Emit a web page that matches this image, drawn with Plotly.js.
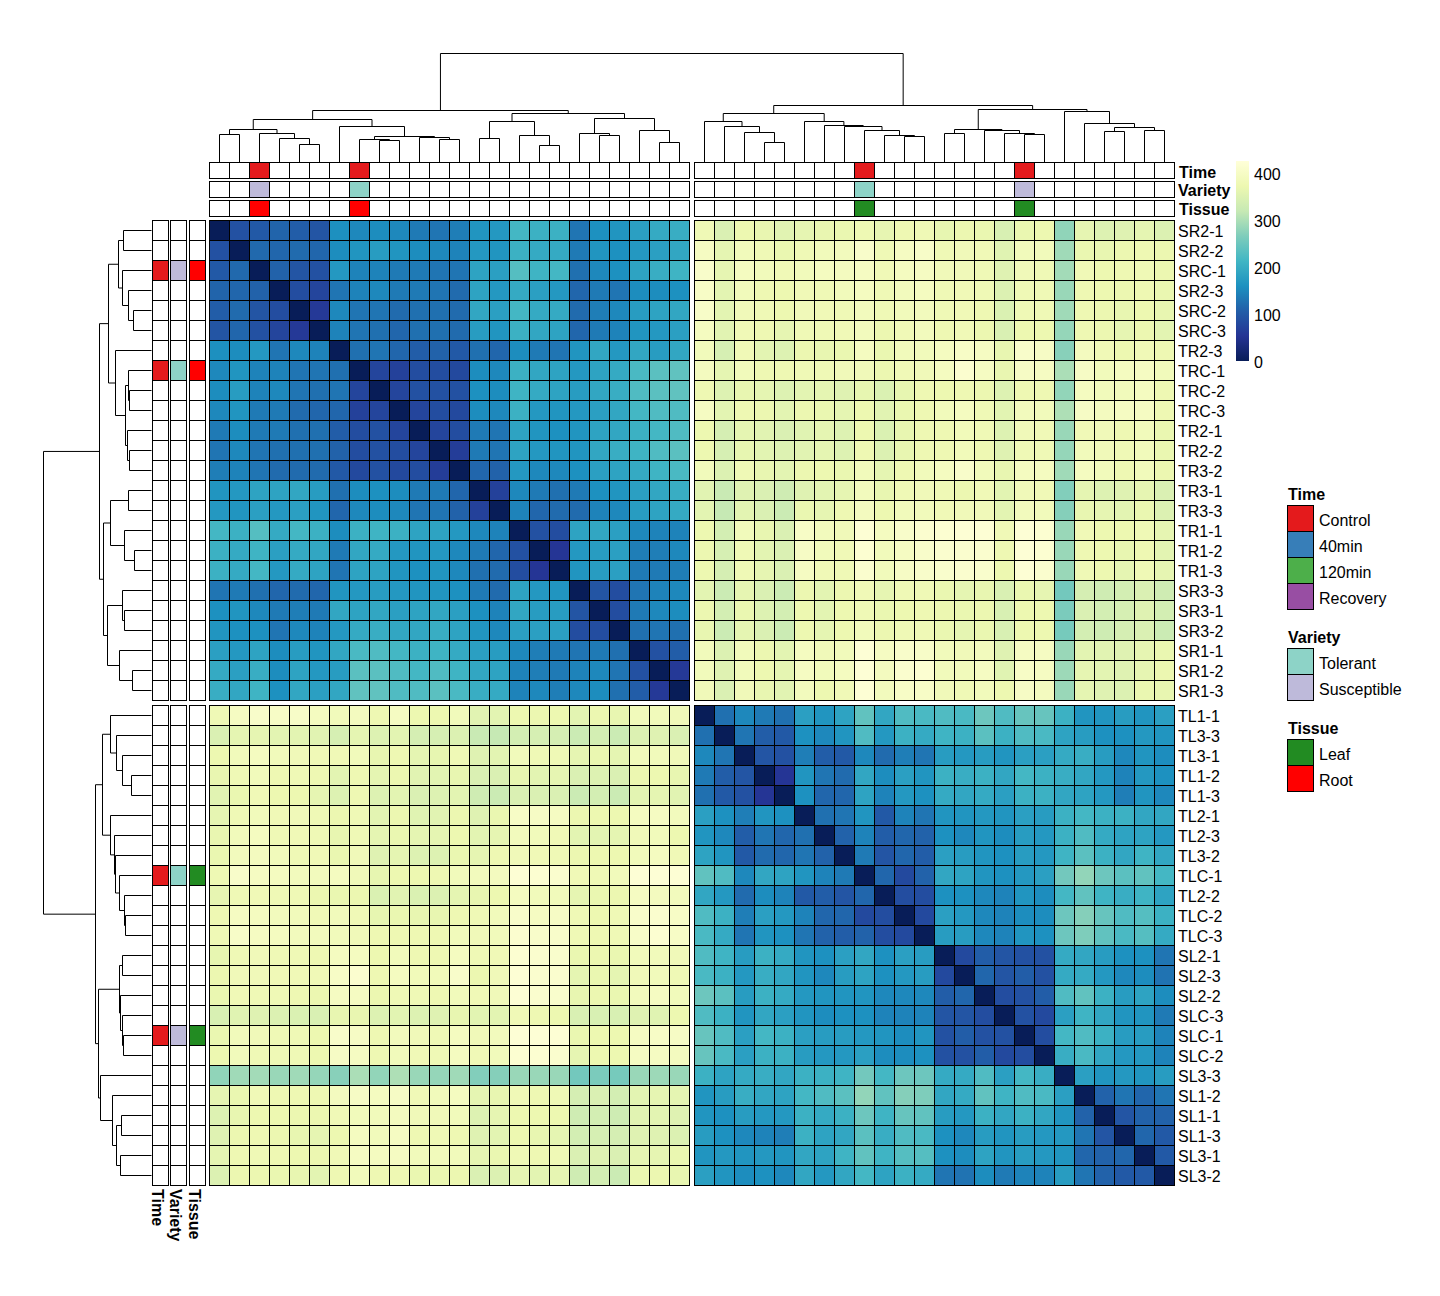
<!DOCTYPE html>
<html>
<head>
<meta charset="utf-8">
<script src="https://cdn.plot.ly/plotly-3.0.1.min.js"></script>
<style>html,body{margin:0;padding:0;background:#fff}#chart{width:1440px;height:1296px}</style>
</head>
<body>
<div id="chart"></div>
<script>
const rootLabels = ['SR2-1','SR2-2','SRC-1','SR2-3','SRC-2','SRC-3','TR2-3','TRC-1','TRC-2','TRC-3','TR2-1','TR2-2','TR3-2','TR3-1','TR3-3','TR1-1','TR1-2','TR1-3','SR3-3','SR3-1','SR3-2','SR1-1','SR1-2','SR1-3'];
const leafLabels = ['TL1-1','TL3-3','TL3-1','TL1-2','TL1-3','TL2-1','TL2-3','TL3-2','TLC-1','TL2-2','TLC-2','TLC-3','SL2-1','SL2-3','SL2-2','SLC-3','SLC-1','SLC-2','SL3-3','SL1-2','SL1-1','SL1-3','SL3-1','SL3-2'];

const rootRoot = [
[0,90,100,112,105,95,158,150,155,150,135,130,140,165,170,215,205,205,130,160,165,180,195,200],
[90,0,118,115,120,115,155,165,175,165,155,150,145,170,165,205,195,195,135,165,160,170,180,190],
[100,118,0,110,95,90,170,145,145,135,135,130,130,185,180,230,210,215,125,150,160,185,200,210],
[112,115,110,0,85,75,130,145,150,135,135,130,120,185,170,195,180,170,115,135,130,155,155,160],
[105,120,95,85,0,60,150,130,130,120,125,125,120,190,180,215,195,195,120,140,150,175,185,190],
[95,115,90,75,60,0,145,130,125,115,125,125,120,175,165,205,190,185,115,135,145,165,170,180],
[158,155,170,130,150,145,0,125,130,115,105,110,100,125,115,155,135,130,165,190,170,190,175,190],
[150,165,145,145,130,130,125,0,75,70,85,85,80,155,150,205,190,185,170,185,195,220,235,240],
[155,175,145,150,130,125,130,75,0,75,90,90,90,160,155,210,195,185,175,190,200,225,235,240],
[150,165,135,135,120,115,115,70,75,0,75,85,80,155,150,205,170,165,170,180,190,215,225,225],
[135,155,135,135,125,125,105,85,90,75,0,75,85,135,130,185,165,160,165,185,190,205,215,225],
[130,150,130,125,125,125,110,85,90,85,75,0,65,135,130,185,170,165,165,190,200,210,225,235],
[140,145,130,120,120,120,100,80,90,80,85,65,0,115,110,170,150,150,160,180,185,195,210,220],
[165,170,185,185,190,175,125,155,160,155,135,135,115,0,70,150,135,125,135,160,165,180,190,200],
[170,165,180,170,180,165,115,150,155,150,130,130,110,70,0,145,115,120,120,145,150,175,185,195],
[215,205,230,195,215,205,155,205,210,205,185,185,170,150,145,0,90,85,185,190,180,150,145,145],
[205,195,210,180,195,190,135,190,195,170,165,170,150,135,115,90,0,55,170,175,180,140,140,150],
[205,195,215,170,195,185,130,185,185,165,160,165,150,125,120,85,55,0,165,175,180,135,135,140],
[130,135,125,115,120,115,165,170,175,170,165,165,160,135,120,185,170,165,0,95,85,130,145,150],
[160,165,150,135,140,135,190,185,190,180,185,190,180,160,145,190,175,175,95,0,85,135,150,155],
[165,160,160,130,150,145,170,195,200,190,190,200,185,165,150,180,180,180,85,85,0,125,130,125],
[180,170,185,155,175,165,190,220,225,215,205,210,195,180,175,150,140,135,130,135,125,0,90,105],
[195,180,200,155,185,170,175,235,235,225,215,225,210,190,185,145,140,135,145,150,130,90,0,60],
[200,190,210,160,190,180,190,240,240,225,225,235,220,200,195,145,150,140,150,155,125,105,60,0]];

const leafLeaf = [
[0,125,150,135,125,180,165,185,240,190,225,220,225,220,250,225,245,245,205,165,165,175,165,180],
[125,0,130,105,100,160,150,165,225,170,205,195,210,205,235,205,225,220,185,175,160,160,170,165],
[150,130,0,95,90,140,105,100,150,120,140,130,175,170,175,165,180,180,195,200,175,150,165,155],
[135,105,95,0,55,165,130,120,190,155,180,165,205,200,205,190,215,205,200,190,170,145,170,160],
[125,100,90,55,0,160,115,115,185,145,170,160,195,190,195,180,205,205,190,185,170,140,165,150],
[180,160,140,165,160,0,125,130,165,100,145,130,165,165,170,165,180,175,205,215,205,205,190,190],
[165,150,105,130,115,125,0,110,145,105,115,110,160,150,165,155,175,170,205,225,195,185,185,170],
[185,165,100,120,115,130,110,0,135,95,115,105,180,175,165,160,175,170,210,235,205,190,210,190],
[240,225,150,190,185,165,145,135,0,115,80,110,190,185,165,160,170,180,255,280,250,235,240,215],
[190,170,120,155,145,100,105,95,115,0,85,85,160,160,150,145,165,155,215,240,210,200,210,185],
[225,205,140,180,170,145,115,115,80,85,0,80,180,170,150,145,155,155,250,270,245,225,230,205],
[220,195,130,165,160,130,110,105,110,85,80,0,175,175,150,145,165,160,250,265,240,220,230,195],
[225,210,175,205,195,165,160,180,190,160,180,175,0,80,105,95,90,90,195,190,175,160,160,130],
[220,205,170,200,190,165,150,175,185,160,170,175,80,0,115,95,105,90,195,195,170,150,155,128],
[250,235,175,205,195,170,165,165,165,150,150,150,105,115,0,85,90,105,225,240,205,175,185,155],
[225,205,165,190,180,165,155,160,160,145,145,145,95,95,85,0,90,80,180,210,190,165,165,135],
[245,225,180,215,205,180,175,175,170,165,155,165,90,105,90,90,0,85,215,225,205,175,175,145],
[245,220,180,205,205,175,170,170,180,155,155,160,90,90,105,80,85,0,200,220,190,170,170,145],
[205,185,195,200,190,205,205,210,255,215,250,250,195,195,225,180,215,200,0,180,165,170,165,175],
[165,175,200,190,185,215,225,235,280,240,270,265,190,195,240,210,225,220,180,0,110,130,115,130],
[165,160,175,170,170,205,195,205,250,210,245,240,175,170,205,190,205,190,165,110,0,95,110,110],
[175,160,150,145,140,205,185,190,235,200,225,220,160,150,175,165,175,170,170,130,95,0,115,100],
[165,170,165,170,165,190,185,210,240,210,230,230,160,155,185,165,175,170,165,115,110,115,0,100],
[180,165,155,160,150,190,170,190,215,185,205,195,130,128,155,135,145,145,175,130,110,100,100,0]];

const rootLeaf = [
[378,345,372,366,355,362,366,368,376,363,374,378,364,370,368,342,368,372,278,362,350,352,360,348],
[395,360,385,378,368,378,385,388,405,378,395,402,378,382,380,354,385,385,290,368,365,370,374,370],
[405,362,392,385,380,385,392,390,395,380,392,395,382,382,378,352,382,378,292,380,372,375,378,370],
[400,358,385,375,372,380,378,385,392,378,388,392,378,380,378,348,378,378,285,375,372,370,375,368],
[402,358,382,378,372,382,380,378,388,378,385,388,378,380,375,346,378,378,290,375,370,365,372,365],
[392,355,380,375,362,378,378,380,388,370,380,388,375,380,370,344,372,372,282,375,370,362,370,358],
[385,340,380,358,350,370,365,368,392,368,385,385,392,400,395,365,405,398,272,390,380,372,380,375],
[390,360,385,375,375,378,378,382,382,370,380,382,392,412,395,366,398,395,298,398,385,392,395,385],
[375,350,365,360,350,358,360,352,364,346,364,374,372,374,370,350,374,374,280,392,385,385,392,375],
[395,358,375,370,358,370,368,360,372,355,368,375,385,392,378,356,388,385,300,398,390,395,395,375],
[372,338,360,355,345,354,360,350,372,346,365,374,374,384,378,350,382,380,285,380,382,375,385,368],
[372,340,364,356,350,355,360,350,374,348,365,374,374,384,374,352,378,378,282,385,382,378,385,368],
[385,348,378,365,358,370,372,368,385,360,375,385,392,405,385,365,392,392,290,392,385,375,385,370],
[355,322,352,345,330,352,358,362,388,365,378,382,378,370,380,356,382,380,268,360,350,352,362,345],
[358,318,358,345,325,368,362,375,390,372,385,385,380,382,382,358,388,385,270,365,362,358,368,348],
[372,335,385,365,345,400,388,382,418,392,405,412,415,418,418,380,420,415,285,380,372,372,378,362],
[370,340,378,358,345,398,385,380,415,385,395,405,410,410,410,375,420,415,285,375,372,365,375,358],
[372,338,378,362,345,395,380,378,410,385,398,405,408,410,408,372,418,410,285,378,372,360,378,362],
[358,325,362,345,325,370,358,370,380,362,378,378,368,360,365,344,368,362,255,338,330,335,345,330],
[370,335,368,350,335,372,358,372,378,368,372,375,370,368,370,342,372,372,262,345,335,340,352,335],
[365,325,360,345,325,372,360,372,385,370,378,378,368,360,368,342,372,372,258,335,328,338,345,325],
[385,348,385,370,358,392,382,385,420,395,405,402,385,382,388,352,395,395,285,358,355,352,362,368],
[385,352,385,372,360,395,385,392,420,390,410,415,385,385,395,354,400,395,288,362,358,352,362,370],
[382,345,382,365,355,388,372,380,418,388,400,400,382,378,385,372,398,390,285,360,352,348,368,365]];
const leafRoot = rootLeaf[0].map((_, c) => rootLeaf.map(r => r[c]));

// annotation categories per sample (0 = not annotated)
const catNames = ['', 'Control', '40min', '120min', 'Recovery', 'Tolerant', 'Susceptible', 'Leaf', 'Root'];
const catColors = ['#FFFFFF', '#E41A1C', '#377EB8', '#4DAF4A', '#984EA3', '#8DD3C7', '#BEBADA', '#228B22', '#FF0000'];
const rootTime    = [0,0,1,0,0,0,0,1,0,0,0,0,0,0,0,0,0,0,0,0,0,0,0,0];
const rootVariety = [0,0,6,0,0,0,0,5,0,0,0,0,0,0,0,0,0,0,0,0,0,0,0,0];
const rootTissue  = [0,0,8,0,0,0,0,8,0,0,0,0,0,0,0,0,0,0,0,0,0,0,0,0];
const leafTime    = [0,0,0,0,0,0,0,0,1,0,0,0,0,0,0,0,1,0,0,0,0,0,0,0];
const leafVariety = [0,0,0,0,0,0,0,0,5,0,0,0,0,0,0,0,6,0,0,0,0,0,0,0];
const leafTissue  = [0,0,0,0,0,0,0,0,7,0,0,0,0,0,0,0,7,0,0,0,0,0,0,0];
const annNames = ['Time', 'Variety', 'Tissue'];
const legendGroups = [['Time',[1,2,3,4]], ['Variety',[5,6]], ['Tissue',[7,8]]];
const scaleTicks = [0, 100, 200, 300, 400];

// dendrograms: [height, childA, childB]; a number is a leaf position
const colTree = [109,
 [52,
  [43,
   [33,[28,0,1],[29,2,[24,3,[18,4,5]]]],
   [36,6,[26,[23,7,[22,8,9]],[25,10,[23,11,12]]]]],
  [49,
   [41,[24,13,14],[27,15,[17,16,17]]],
   [44,[29,18,[27,19,20]],[32,21,[20,22,23]]]]],
 [57,
  [49,
   [41,24,[36,25,[30,26,[20,27,28]]]],
   [41,29,[37,30,[36,31,[32,32,[27,33,[26,34,35]]]]]]],
  [53,
   [33,[29,36,37],[32,38,[29,39,[28,40,41]]]],
   [51,42,[39,43,[35,[31,44,45],[32,46,47]]]]]]];
const rowTree = [109,
 [53,
  [44,
   [34,[29,0,1],[30,2,[24,3,[19,4,5]]]],
   [37,6,[27,[24,7,[23,8,9]],[25,10,[23,11,12]]]]],
  [49,
   [42,[24,13,14],[28,15,[18,16,17]]],
   [45,[30,18,[28,19,20]],[33,21,[20,22,23]]]]],
 [57,
  [50,
   [42,24,[36,25,[30,26,[21,27,28]]]],
   [42,29,[38,30,[37,31,[33,32,[28,33,[27,34,35]]]]]]],
  [54,
   [33,[30,36,37],[32,38,[30,39,[29,40,41]]]],
   [52,42,[40,43,[36,[31,44,45],[32,46,47]]]]]]];

const ylgnbu = [[0,'#081D58'],[0.125,'#253494'],[0.25,'#225EA8'],[0.375,'#1D91C0'],[0.5,'#41B6C4'],[0.625,'#7FCDBB'],[0.75,'#C7E9B4'],[0.875,'#EDF8B1'],[1,'#FFFFD9']];
const Z_MAX = 425;

const W = 1440, H = 1296;
const FONT = 'Liberation Sans, Arial, sans-serif';
const traces = [];
const shapes = [];
const annotations = [];
const layout = {
  width: W, height: H, autosize: false,
  margin: {l: 0, r: 0, t: 0, b: 0, pad: 0},
  paper_bgcolor: '#fff', plot_bgcolor: 'rgba(0,0,0,0)',
  font: {family: FONT, size: 16, color: '#000'},
  showlegend: false, hovermode: false
};
let axisN = 0;
function subplot(x0, x1, y0, y1, xo, yo) {
  axisN++;
  const s = axisN === 1 ? '' : String(axisN);
  const base = {showgrid: false, zeroline: false, showticklabels: false, ticks: '', fixedrange: true};
  layout['xaxis' + s] = Object.assign({}, base, {domain: [x0 / W, x1 / W], anchor: 'y' + s}, xo);
  layout['yaxis' + s] = Object.assign({}, base, {domain: [1 - y1 / H, 1 - y0 / H], anchor: 'x' + s}, yo);
  return {xa: 'x' + s, ya: 'y' + s};
}
function cellPlot(x0, y0, nx, ny, cw, ch, z, style) {
  const edge = {showline: true, linewidth: 1, linecolor: '#000'};
  const p = subplot(x0, x0 + nx * cw, y0, y0 + ny * ch,
    Object.assign({range: [-0.5, nx - 0.5], side: 'top'}, edge),
    Object.assign({range: [ny - 0.5, -0.5], side: 'left'}, edge));
  shapes.push({type: 'rect', layer: 'below', xref: p.xa + ' domain', yref: p.ya + ' domain', x0: 0, x1: 1, y0: 0, y1: 1, fillcolor: '#000', line: {width: 0}});
  traces.push(Object.assign({type: 'heatmap', z: z, xaxis: p.xa, yaxis: p.ya, xgap: 1, ygap: 1, showscale: false, hoverinfo: 'skip'}, style));
  return p;
}
const valueStyle = {colorscale: ylgnbu, zmin: 0, zmax: Z_MAX, zauto: false};
const catScale = [];
catColors.forEach((c, i) => { catScale.push([i / catColors.length, c]); catScale.push([(i + 1) / catColors.length, c]); });
const catStyle = {colorscale: catScale, zmin: -0.5, zmax: catColors.length - 0.5, zauto: false};

function note(text, xPx, yref, y, opts) {
  annotations.push(Object.assign({text: text, xref: 'paper', x: xPx / W, yref: yref, y: y, xanchor: 'left', yanchor: 'middle',
    showarrow: false, borderpad: 0, borderwidth: 0, font: {family: FONT, size: 16, color: '#000'}}, opts || {}));
}

// main matrix
const X_L = 210, X_R = 695, Y_T = 221, Y_B = 706, CELL = 20;
const rr = cellPlot(X_L, Y_T, 24, 24, CELL, CELL, rootRoot, Object.assign({}, valueStyle, {
  showscale: true,
  colorbar: {lenmode: 'pixels', len: 200, thicknessmode: 'pixels', thickness: 13, x: 1236 / W, xanchor: 'left', xpad: 0,
    y: 1 - 361 / H, yanchor: 'bottom', ypad: 0, outlinewidth: 0, tickmode: 'array', tickvals: [], showticklabels: false,
    ticks: '', bgcolor: 'rgba(0,0,0,0)'}
}));
const rl = cellPlot(X_R, Y_T, 24, 24, CELL, CELL, rootLeaf, valueStyle);
const lr = cellPlot(X_L, Y_B, 24, 24, CELL, CELL, leafRoot, valueStyle);
const ll = cellPlot(X_R, Y_B, 24, 24, CELL, CELL, leafLeaf, valueStyle);
rootLabels.forEach((t, i) => note(t, 1178, rl.ya, i));
leafLabels.forEach((t, i) => note(t, 1178, ll.ya, i));
scaleTicks.forEach(v => note(String(v), 1254, 'paper', 1 - (362.5 - v / Z_MAX * 200) / H));

// top annotation rows
const topY = [163, 182, 201];
const topLabelX = [1179, 1178, 1179];
const topLabelShift = [-2, 0, -1];
[rootTime, rootVariety, rootTissue].forEach((v, k) => cellPlot(X_L, topY[k], 24, 1, CELL, 16, [v], catStyle));
[leafTime, leafVariety, leafTissue].forEach((v, k) => {
  const p = cellPlot(X_R, topY[k], 24, 1, CELL, 16, [v], catStyle);
  note('<b>' + annNames[k] + '</b>', topLabelX[k], p.ya, 0, {yshift: topLabelShift[k]});
});
// side annotation columns
const sideX = [153, 171, 190];
[rootTime, rootVariety, rootTissue].forEach((v, k) => cellPlot(sideX[k], Y_T, 1, 24, 16, CELL, v.map(d => [d]), catStyle));
[leafTime, leafVariety, leafTissue].forEach((v, k) => {
  const p = cellPlot(sideX[k], Y_B, 1, 24, 16, CELL, v.map(d => [d]), catStyle);
  annotations.push({text: '<b>' + annNames[k] + '</b>', xref: p.xa, x: 0, yref: 'paper', y: 1 - 1189 / H, xanchor: 'center', yanchor: 'top', textangle: 90,
    xshift: -3.5, showarrow: false, borderpad: 0, borderwidth: 0, font: {family: FONT, size: 16, color: '#000'}});
});

// categorical legends
const legendY = [506, 649, 740];
const legendTitleY = [494, 637, 728];
const legendTextShift = [-1, -2, -1];
legendGroups.forEach((g, k) => {
  const p = cellPlot(1288, legendY[k], 1, g[1].length, 26, 26, g[1].map(c => [c]), catStyle);
  note('<b>' + g[0] + '</b>', 1288, 'paper', 1 - legendTitleY[k] / H);
  g[1].forEach((c, i) => note(catNames[c], 1319, p.ya, i, {yshift: legendTextShift[k]}));
});

// dendrograms (half-pixel pads keep the 1px lines on whole pixels)
const GAP = 0.25;
const PAD = 0.025;
const leafPos = i => i + 0.5 + (i >= 24 ? GAP : 0);
function walk(node, leafH, out) {
  if (typeof node === 'number') return {p: leafPos(node), h: leafH};
  const a = walk(node[1], leafH, out), b = walk(node[2], leafH, out);
  out.pos.push(a.p, a.p, b.p, b.p, null);
  out.hgt.push(a.h, node[0], node[0], b.h, null);
  return {p: (a.p + b.p) / 2, h: node[0]};
}
const SPAN = 48 + GAP;
const topSeg = {pos: [], hgt: []}; walk(colTree, 0, topSeg);
const topP = subplot(209, 1175, 53, 163, {range: [-PAD, SPAN + PAD]}, {range: [-0.5, 109.5]});
traces.push({type: 'scatter', mode: 'lines', x: topSeg.pos, y: topSeg.hgt, xaxis: topP.xa, yaxis: topP.ya, line: {color: '#000', width: 1}, cliponaxis: false, hoverinfo: 'skip'});
const leftSeg = {pos: [], hgt: []}; walk(rowTree, 1, leftSeg);
const leftP = subplot(43, 153, 220, 1186, {range: [109.5, -0.5]}, {range: [SPAN + PAD, -PAD]});
traces.push({type: 'scatter', mode: 'lines', x: leftSeg.hgt, y: leftSeg.pos, xaxis: leftP.xa, yaxis: leftP.ya, line: {color: '#000', width: 1}, cliponaxis: false, hoverinfo: 'skip'});

layout.shapes = shapes;
layout.annotations = annotations;
Plotly.newPlot('chart', traces, layout, {displayModeBar: false, staticPlot: true, responsive: false});
</script>
</body>
</html>
